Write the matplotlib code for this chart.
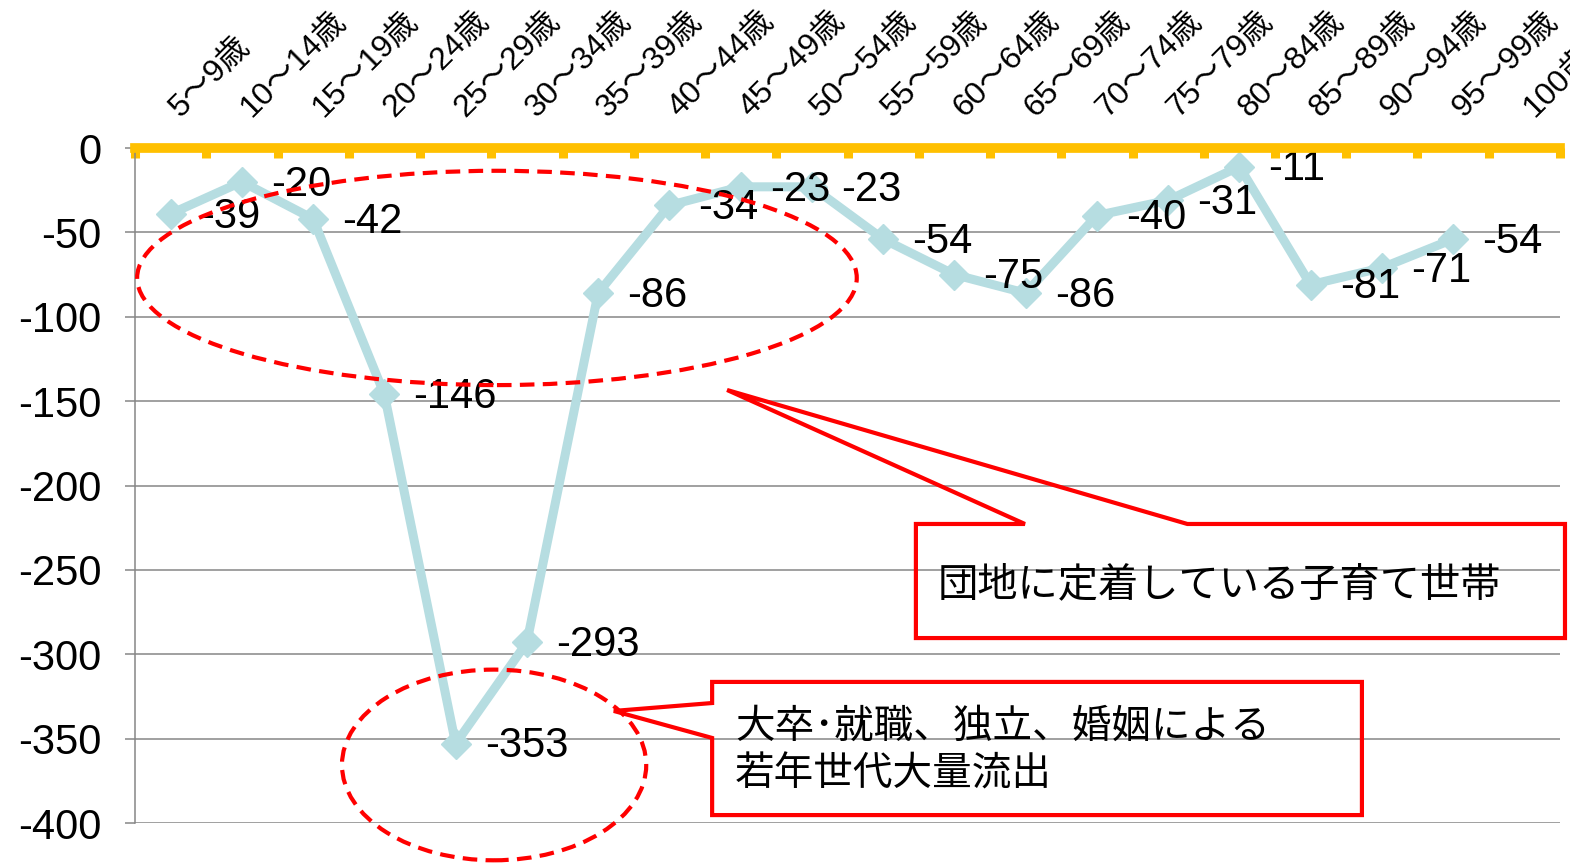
import numpy as np
import matplotlib
matplotlib.use("Agg")
import matplotlib.pyplot as plt
from matplotlib.patches import Ellipse, Polygon
from matplotlib.ticker import FixedLocator
from matplotlib.transforms import ScaledTranslation

plt.rcParams['font.family'] = ['Liberation Sans', 'Noto Sans CJK JP']
plt.rcParams['axes.unicode_minus'] = False

# age groups and net migration values (last group has no value)
ages = ['5～9歳', '10～14歳', '15～19歳', '20～24歳', '25～29歳', '30～34歳',
        '35～39歳', '40～44歳', '45～49歳', '50～54歳', '55～59歳', '60～64歳',
        '65～69歳', '70～74歳', '75～79歳', '80～84歳', '85～89歳', '90～94歳',
        '95～99歳', '100歳以上']
values = [-39, -20, -42, -146, -353, -293, -86, -34, -23, -23, -54, -75,
          -86, -40, -31, -11, -81, -71, -54, np.nan]
yticks = [0, -50, -100, -150, -200, -250, -300, -350, -400]

note_top = '団地に定着している子育て世帯'
note_bottom = '大卒･就職、独立、婚姻による\n若年世代大量流出'

x = np.arange(len(ages))

fig = plt.figure(figsize=(15.7, 8.65), dpi=100)
ax = fig.add_axes([0.08599, 0.04855, 0.90764, 0.78035])

ax.plot(x, values, color='#B6DDE1', lw=6.5, marker='D', markersize=15.5, zorder=3)

for xi, v in zip(x, values):
    if np.isnan(v):
        continue
    ax.annotate(str(int(v)), (xi, v), xytext=(21, -2),
                textcoords='offset points', ha='left', va='center',
                fontsize=30, color='black', zorder=4)

ax.set_xlim(-0.5, len(ages) - 0.5)
ax.set_ylim(-400, 0)

# y axis
ax.set_yticks(yticks)
ax.set_yticklabels([str(t) for t in yticks])
ax.tick_params(axis='y', labelsize=30, length=7, width=1.1, color='#868686', pad=17)
ax.grid(axis='y', color='#868686', lw=1.1, zorder=0)

# x axis labels on top, gold zero line with boundary ticks
ax.xaxis.tick_top()
ax.set_xticks(x)
ax.set_xticklabels(ages, rotation=45, ha='left', va='baseline', rotation_mode='anchor')
ax.tick_params(axis='x', which='major', length=0, labelsize=23, pad=22)
shift = ScaledTranslation(0.10, 0, fig.dpi_scale_trans)
for lbl in ax.get_xticklabels():
    lbl.set_transform(lbl.get_transform() + shift)
ax.xaxis.set_minor_locator(FixedLocator(np.arange(len(ages) + 1) - 0.5))
ax.tick_params(axis='x', which='minor', top=True, bottom=False, direction='in',
               length=7, width=6.5, color='#FFC000')

ax.spines['top'].set_color('#FFC000')
ax.spines['top'].set_linewidth(7)
ax.spines['top'].set_zorder(5)
ax.spines['left'].set_color('#868686')
ax.spines['left'].set_linewidth(1.1)
ax.spines['right'].set_visible(False)
ax.spines['bottom'].set_visible(False)

# dashed ellipses
red = '#FF0000'
ax.add_patch(Ellipse((4.58, -77), 10.1, 127, fill=False, ec=red, lw=3,
                     ls=(0, (3.5, 2)), zorder=4, clip_on=False))
ax.add_patch(Ellipse((4.54, -365.6), 4.27, 113, fill=False, ec=red, lw=3,
                     ls=(0, (3.5, 2)), zorder=4, clip_on=False))

# callout boxes
call1 = [(11.99, -222.8), (7.81, -143.4), (14.27, -222.8), (19.57, -222.8),
         (19.57, -290.4), (10.46, -290.4), (10.46, -222.8)]
ax.add_patch(Polygon(call1, closed=True, fill=False, ec=red, lw=3,
                     joinstyle='miter', zorder=4, clip_on=False))
ax.text(10.76, -259, note_top, fontsize=29, family=['Noto Sans CJK JP'],
        ha='left', va='center', zorder=5)

call2 = [(7.60, -316.4), (16.72, -316.4), (16.72, -395.3), (7.60, -395.3),
         (7.60, -349.6), (6.22, -333.6), (7.60, -328.9)]
ax.add_patch(Polygon(call2, closed=True, fill=False, ec=red, lw=3,
                     joinstyle='miter', zorder=4, clip_on=False))
ax.text(7.92, -357, note_bottom, fontsize=28.5, family=['Noto Sans CJK JP'],
        ha='left', va='center', linespacing=1.25, zorder=5)

fig.savefig('out.png', dpi=100)
